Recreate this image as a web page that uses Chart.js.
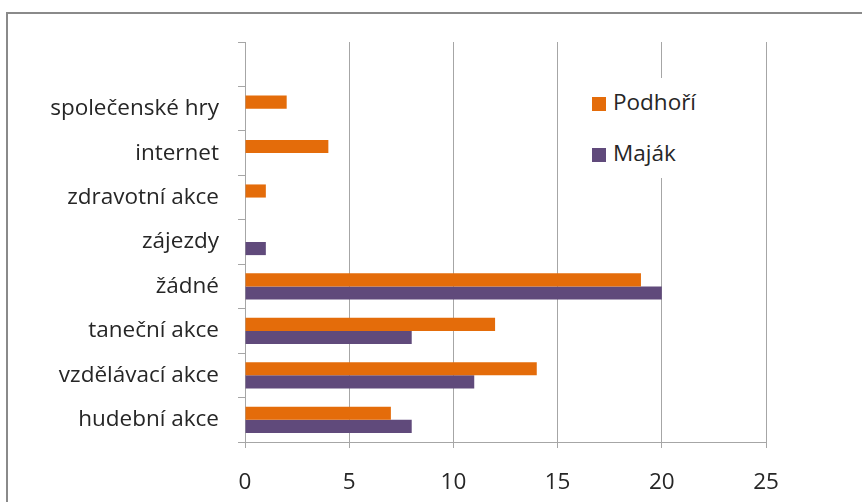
<!DOCTYPE html>
<html>
<head>
<meta charset="utf-8">
<script src="https://cdn.jsdelivr.net/npm/chart.js@4"></script>
<style>
  html, body { margin: 0; padding: 0; background: #fff; }
  #obal { position: relative; width: 862px; height: 502px; overflow: hidden; }
  #ramecek { position: absolute; left: 6px; top: 12px; width: 900px; height: 520px;
             border-left: 2px solid #8a8a8a; border-top: 2px solid #8a8a8a; }
  #graf { position: absolute; left: 0; top: 0; }
  #legenda { position: absolute; left: 586px; top: 78px; width: 118px; height: 100px;
             background: #fff; font-family: "Open Sans", Lato, sans-serif; font-size: 22.5px; color: #262626; }
  #legenda div { position: absolute; left: 6px; height: 26px; line-height: 26px; white-space: nowrap; }
  #legenda span { display: inline-block; width: 14px; height: 14px; margin-right: 7px; vertical-align: -1px; }
</style>
</head>
<body>
<div id="obal">
  <div id="ramecek"></div>
  <canvas id="graf" width="862" height="502"></canvas>
  <div id="legenda"></div>
</div>
<script>
// kategorie odshora dolu, prvni je prazdna
const kategorie = ["", "společenské hry", "internet", "zdravotní akce", "zájezdy",
                   "žádné", "taneční akce", "vzdělávací akce", "hudební akce"];
const podhori = [null, 2, 4, 1, 0, 19, 12, 14, 7];
const majak   = [null, 0, 0, 0, 1, 20, 8, 11, 8];
const osaX    = [0, 5, 10, 15, 20, 25];

const pismo = { family: "'Open Sans', Lato, sans-serif", size: 22.5 };
const seda = "#a6a6a6";

const ctx = document.getElementById("graf").getContext("2d");
const graf = new Chart(ctx, {
    type: "bar",
    data: {
        labels: kategorie,
        datasets: [
            { label: "Podhoří", data: podhori, backgroundColor: "#E46C0A" },
            { label: "Maják",   data: majak,   backgroundColor: "#604A7B" }
        ]
    },
    options: {
        indexAxis: "y",
        responsive: false,
        animation: false,
        layout: { padding: { left: 0, top: 42, right: 96, bottom: 0 } },
        datasets: { bar: { categoryPercentage: 0.59, barPercentage: 1 } },
        plugins: { legend: { display: false }, tooltip: { enabled: false } },
        scales: {
            x: {
                min: 0, max: osaX[osaX.length - 1],
                afterBuildTicks: function(osa){ osa.ticks = osaX.map(v => ({ value: v })); },
                grid: { color: seda, tickColor: seda, tickLength: 6, lineWidth: 1 },
                border: { color: seda, width: 1 },
                ticks: { color: "#262626", font: pismo, padding: 21 },
                afterFit: function(osa){ osa.height = 60; }
            },
            y: {
                grid: { drawOnChartArea: false, color: seda, tickColor: seda, tickLength: 7, offset: true },
                border: { color: seda, width: 1 },
                ticks: { color: "#262626", font: pismo, padding: 19, autoSkip: false },
                afterFit: function(osa){ osa.width = 245; }
            }
        }
    }
});

//Legenda z datasetu
const legenda = document.getElementById("legenda");
graf.data.datasets.forEach(function(ds, i){
    const radek = document.createElement("div");
    radek.style.top = (11 + i * 51) + "px";
    radek.innerHTML = '<span style="background:' + ds.backgroundColor + '"></span>' + ds.label;
    legenda.appendChild(radek);
});
</script>
</body>
</html>
